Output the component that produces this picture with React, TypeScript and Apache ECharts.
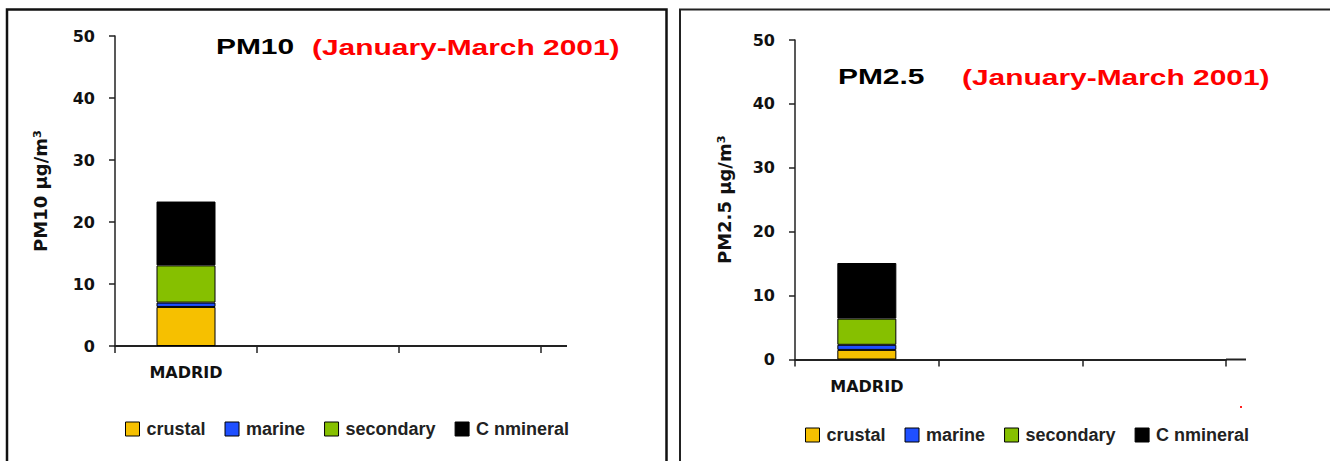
import React, { useEffect, useRef } from "react";
import * as echarts from "echarts";

// ---- data ----
const categories = ["MADRID", "", ""];
const seriesNames = ["crustal", "marine", "secondary", "C nmineral"];
const seriesColors = ["#F6C000", "#1F4FFF", "#86C000", "#000000"];

const pm10Crustal = [6.3];
const pm10Marine = [0.7];
const pm10Secondary = [6.0];
const pm10CNonMineral = [10.3];

const pm25Crustal = [1.5];
const pm25Marine = [0.8];
const pm25Secondary = [4.1];
const pm25CNonMineral = [8.7];

const yTicks = [0, 10, 20, 30, 40, 50];

const titlePM10 = "PM10";
const titlePM25 = "PM2.5";
const period = "(January-March 2001)";
const yNamePM10 = "PM10 µg/m³";
const yNamePM25 = "PM2.5 µg/m³";

const ARIAL = "'Liberation Sans', Arial, sans-serif";
const DEJAVU = "'DejaVu Sans', sans-serif";

function makeYAxis(gridIndex: number, name: string, nameGap: number) {
  return {
    type: "value",
    gridIndex,
    min: yTicks[0],
    max: yTicks[yTicks.length - 1],
    interval: yTicks[1] - yTicks[0],
    name,
    nameLocation: "middle",
    nameGap,
    nameTextStyle: { fontFamily: DEJAVU, fontWeight: "bold", fontSize: 18, color: "#111" },
    axisLine: { show: true, lineStyle: { color: "#222", width: 1.5 } },
    axisTick: { show: true, length: 6, lineStyle: { color: "#222", width: 1.5 } },
    axisLabel: { margin: 20, fontFamily: DEJAVU, fontWeight: "bold", fontSize: 16, color: "#111" },
    splitLine: { show: false },
  };
}

function makeXAxis(gridIndex: number, margin: number) {
  return {
    type: "category",
    gridIndex,
    data: categories,
    axisLine: { show: true, lineStyle: { color: "#222", width: 2 } },
    axisTick: { show: true, length: 7, lineStyle: { color: "#222", width: 1.5 } },
    axisLabel: { margin, fontFamily: DEJAVU, fontWeight: "bold", fontSize: 16, color: "#111", interval: 0 },
  };
}

function makeSeries(idx: number, values: number[][], stack: string) {
  return seriesNames.map((name, i) => ({
    type: "bar",
    name,
    xAxisIndex: idx,
    yAxisIndex: idx,
    stack,
    barWidth: 59,
    data: values[i],
    itemStyle: { color: seriesColors[i], borderColor: "#000", borderWidth: 1 },
  }));
}

function makeLegend(left: number, top: number) {
  return {
    left,
    top,
    orient: "horizontal",
    data: seriesNames,
    icon: "rect",
    itemWidth: 14,
    itemHeight: 14,
    itemGap: 19,
    selectedMode: false,
    itemStyle: { borderColor: "#000", borderWidth: 1 },
    textStyle: {
      fontFamily: ARIAL,
      fontWeight: "bold",
      fontSize: 18,
      color: "#222",
      padding: [0, 0, 0, 2],
    },
  };
}

function titleText(text: string, x: number, y: number, color: string) {
  return {
    type: "text",
    x,
    y,
    scaleX: 1.36,
    style: {
      text,
      fontFamily: ARIAL,
      fontWeight: "bold",
      fontSize: 22,
      fill: color,
      verticalAlign: "middle",
      textVerticalAlign: "middle",
    },
  };
}

export default function App() {
  const ref = useRef<HTMLDivElement>(null);

  useEffect(() => {
    if (!ref.current) return;
    const chart = echarts.init(ref.current, null, { renderer: "svg" });
    const option = {
      animation: false,
      backgroundColor: "#ffffff",
      grid: [
        { left: 115, top: 36, width: 426, height: 310 },
        { left: 795, top: 40, width: 431, height: 319.5 },
      ],
      xAxis: [makeXAxis(0, 18), makeXAxis(1, 19)],
      yAxis: [makeYAxis(0, yNamePM10, 66), makeYAxis(1, yNamePM25, 62)],
      legend: [makeLegend(120, 415), makeLegend(800, 421)],
      series: [
        ...makeSeries(0, [pm10Crustal, pm10Marine, pm10Secondary, pm10CNonMineral], "pm10"),
        ...makeSeries(1, [pm25Crustal, pm25Marine, pm25Secondary, pm25CNonMineral], "pm25"),
      ],
      graphic: [
        {
          type: "rect",
          shape: { x: 7, y: 9.5, width: 659.5, height: 470 },
          style: { fill: "none", stroke: "#111", lineWidth: 2.5 },
          silent: true,
        },
        {
          type: "rect",
          shape: { x: 680, y: 9.5, width: 700, height: 470 },
          style: { fill: "none", stroke: "#222", lineWidth: 2 },
          silent: true,
        },
        {
          type: "line",
          shape: { x1: 541, y1: 346, x2: 567, y2: 346 },
          style: { stroke: "#222", lineWidth: 2 },
          silent: true,
        },
        {
          type: "line",
          shape: { x1: 1226, y1: 359.5, x2: 1246, y2: 359.5 },
          style: { stroke: "#222", lineWidth: 2 },
          silent: true,
        },
        {
          type: "rect",
          shape: { x: 1240, y: 406, width: 2, height: 2 },
          style: { fill: "#ff2020" },
          silent: true,
        },
        titleText(titlePM10, 216, 46, "#000"),
        titleText(period, 312, 47, "#FF0000"),
        titleText(titlePM25, 838, 76, "#000"),
        titleText(period, 962, 77, "#FF0000"),
      ],
    };
    chart.setOption(option as any);
    return () => chart.dispose();
  }, []);

  return (
    <div
      ref={ref}
      style={{ position: "absolute", left: 0, top: 0, width: 1330, height: 461 }}
    />
  );
}
